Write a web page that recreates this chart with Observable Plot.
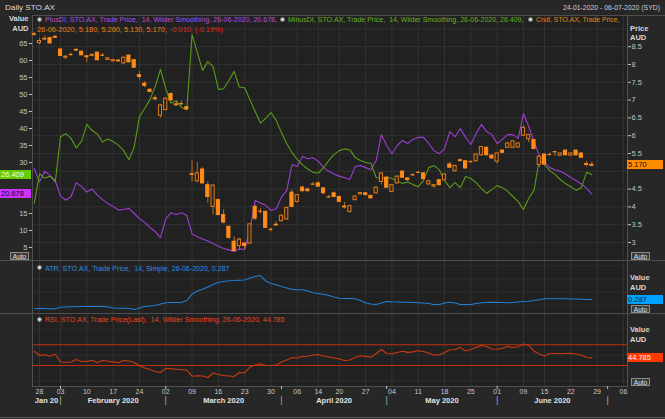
<!DOCTYPE html>
<html><head><meta charset="utf-8">
<script src="https://cdn.jsdelivr.net/npm/d3@7"></script>
<script src="https://cdn.jsdelivr.net/npm/@observablehq/plot@0.6"></script>
<style>
html,body{margin:0;padding:0;background:#272727;}
#chart{position:relative;width:665px;height:419px;background:#272727;overflow:hidden;font-family:"Liberation Sans",Arial,sans-serif;}
.t{position:absolute;white-space:pre;line-height:1;transform-origin:0 50%;}
.tag{position:absolute;height:9px;line-height:9px;font-size:7.5px;padding-left:1px;box-sizing:border-box;white-space:pre;}
.auto{position:absolute;width:19px;height:8px;border:1px solid #8c8c8c;background:#3a3a3a;color:#e2e2e2;font-size:6.5px;line-height:8px;text-align:center;box-sizing:border-box;}
.ico{position:absolute;width:5px;height:5px;border-radius:50%;background:#d6d6d6;border:1px solid #7a7a7a;box-sizing:border-box;}
.hl{position:absolute;height:1px;background:#4e4e4e;}
</style></head>
<body><div id="chart"></div>
<script>
// ---------- data ----------
const ticker = "STO.AX";
const startDate = "2020-01-24", endDate = "2020-07-06";
const holidays = ["2020-01-27","2020-04-10","2020-04-13","2020-06-08"];
const open = [8.84,8.60,8.71,8.74,8.78, 8.42,8.19,8.28,8.41,8.36, 8.23,8.24,8.33,8.26,8.13, 8.09,8.11,8.03,8.25,8.12,
  7.70,7.46,7.29,7.05,6.56, 6.72,7.17,6.88,6.90,6.80, 4.91,4.72,5.05,4.61,4.00, 4.19,3.77,3.44,3.02,2.90,
  2.97,2.97,4.00,3.88,3.86, 3.37,3.50,3.60,3.65,4.40, 4.14,4.54,4.49,4.64,4.66, 4.52,4.28,4.38,4.28,4.01,
  3.86,4.19,4.35,4.38,4.31, 4.38,4.70,4.82,4.42,4.66, 4.99,4.80,4.90,4.97,4.94, 4.63,4.57,4.75,4.75,5.19,
  5.00,5.31,5.28,5.27,5.28, 5.45,5.66,5.44,5.27,5.58, 5.66,5.66,5.67,6.00,5.90, 5.88,5.18,5.47,5.47,5.55,
  5.44,5.58,5.44,5.58,5.50, 5.20,5.18];
const high = [8.90,8.72,8.80,8.76,8.80, 8.44,8.25,8.32,8.45,8.38, 8.24,8.30,8.36,8.31,8.19, 8.14,8.13,8.21,8.27,8.14,
  7.80,7.52,7.32,7.12,6.88, 7.06,7.20,6.95,6.97,6.82, 5.30,5.25,5.10,4.70,4.62, 4.22,3.92,3.46,3.16,3.12,
  3.00,3.52,4.05,3.95,3.88, 3.40,3.58,3.78,3.99,4.47, 4.35,4.58,4.52,4.68,4.70, 4.54,4.32,4.42,4.30,4.12,
  4.04,4.30,4.41,4.40,4.33, 4.56,4.96,4.84,4.63,4.87, 5.01,4.82,4.93,5.00,4.96, 4.75,4.63,4.77,4.93,5.25,
  5.17,5.35,5.30,5.30,5.49, 5.70,5.68,5.46,5.52,5.61, 5.80,5.86,5.80,6.28,6.04, 5.90,5.43,5.49,5.52,5.56,
  5.52,5.60,5.52,5.60,5.52, 5.28,5.26];
const low = [8.80,8.55,8.68,8.58,8.74, 8.22,8.14,8.24,8.37,8.24, 8.05,8.22,8.10,8.22,8.11, 8.07,8.06,8.01,8.05,7.90,
  7.56,7.35,7.20,6.98,6.50, 6.70,6.97,6.82,6.84,6.72, 4.70,4.68,4.64,4.10,3.77, 3.75,3.52,3.10,2.74,2.78,
  2.80,2.95,3.62,3.80,3.40, 3.30,3.45,3.58,3.62,3.98, 4.10,4.42,4.42,4.60,4.55, 4.36,4.24,4.26,4.12,3.94,
  3.82,4.17,4.33,4.32,4.22, 4.36,4.62,4.52,4.40,4.64, 4.80,4.73,4.86,4.94,4.76, 4.60,4.53,4.59,4.73,5.08,
  4.98,5.28,5.06,5.24,5.26, 5.42,5.43,5.34,5.20,5.50, 5.64,5.64,5.65,5.98,5.80, 5.60,5.10,5.17,5.44,5.42,
  5.42,5.43,5.42,5.43,5.36, 5.12,5.13];
const close = [8.85,8.66,8.72,8.59,8.75, 8.24,8.22,8.28,8.39,8.26, 8.22,8.27,8.12,8.26,8.17, 8.12,8.09,8.19,8.06,7.91,
  7.65,7.40,7.23,7.04,6.85, 7.04,6.99,6.87,6.90,6.74, 4.92,4.94,4.66,4.28,4.60, 3.77,3.56,3.13,2.76,3.08,
  2.90,3.51,3.67,3.88,3.41, 3.37,3.48,3.75,3.97,4.00, 4.33,4.44,4.44,4.64,4.57, 4.38,4.28,4.28,4.14,4.00,
  4.02,4.29,4.39,4.33,4.24, 4.54,4.94,4.54,4.61,4.85, 4.82,4.75,4.90,4.97,4.78, 4.72,4.61,4.61,4.91,5.10,
  5.15,5.30,5.08,5.27,5.47, 5.68,5.45,5.36,5.50,5.52, 5.78,5.84,5.78,6.22,6.02, 5.63,5.41,5.19,5.47,5.55,
  5.50,5.45,5.50,5.45,5.38, 5.18,5.17];
const plusDI = [28.2,24.3,27.4,26.2,24.7, 20.1,18.9,20.0,24.1,22.9, 21.3,22.2,20.4,19.1,17.9, 17.1,16.0,16.2,16.5,15.0,
  13.5,12.4,10.9,9.7,7.9, 13.4,15.2,14.7,15.2,14.4, 9.0,8.2,7.5,6.9,6.2, 5.4,4.7,4.3,3.8,4.6,
  4.4,10.0,18.8,18.1,17.4, 15.9,16.4,19.8,21.8,29.4, 28.8,31.8,31.1,31.4,30.4, 28.5,27.4,26.6,26.0,25.5,
  25.0,28.8,29.1,28.5,27.9, 30.6,38.2,35.0,32.6,35.0, 36.5,35.6,36.8,37.4,37.4, 35.6,33.5,32.6,34.1,39.1,
  37.6,40.0,37.4,35.3,38.5, 41.2,39.1,38.2,35.6,36.8, 38.2,38.2,37.1,44.4,40.6, 36.2,32.1,30.3,28.5,27.9,
  27.4,26.6,25.6,24.7,23.7, 22.4,20.678];
const minusDI = [18.0,26.7,25.4,26.0,24.3, 37.6,38.5,37.1,34.3,36.3, 41.2,39.4,38.4,36.0,36.9, 36.2,35.1,33.5,30.8,34.5,
  43.5,45.9,48.5,52.4,57.4, 51.8,47.4,48.2,46.2,45.5, 67.6,62.4,57.1,59.7,58.2, 51.5,51.7,54.1,56.8,52.2,
  52.0,48.5,45.0,41.6,43.0, 44.7,42.4,38.8,35.6,32.9, 30.9,29.3,28.1,27.1,26.9, 28.5,30.6,32.4,33.5,34.0,
  33.7,31.5,30.6,30.0,29.8, 25.6,25.3,25.7,25.3,24.6, 23.8,24.3,23.5,22.9,24.7, 28.5,29.1,27.9,24.7,22.6,
  24.1,22.6,25.9,25.3,24.1, 22.4,20.9,22.1,23.2,22.6, 21.5,20.0,18.5,16.2,19.4, 21.8,30.6,29.4,27.6,26.5,
  25.0,23.8,22.9,21.8,22.6, 27.1,26.409];
const atr = [0.147,0.153,0.150,0.147,0.145, 0.170,0.173,0.176,0.177,0.180, 0.180,0.180,0.180,0.180,0.173, 0.158,0.155,0.155,0.150,0.135,
  0.158,0.180,0.188,0.196,0.218, 0.237,0.241,0.241,0.241,0.272, 0.370,0.416,0.444,0.477,0.514, 0.549,0.561,0.573,0.576,0.581,
  0.585,0.614,0.637,0.652,0.569, 0.530,0.511,0.485,0.462,0.442, 0.436,0.435,0.416,0.389,0.378, 0.368,0.348,0.325,0.307,0.302,
  0.302,0.298,0.272,0.234,0.218, 0.211,0.234,0.257,0.252,0.249, 0.246,0.246,0.241,0.237,0.234, 0.226,0.211,0.211,0.234,0.246,
  0.234,0.211,0.211,0.211,0.226, 0.237,0.241,0.244,0.246,0.241, 0.237,0.241,0.249,0.257,0.261, 0.272,0.284,0.298,0.298,0.298,
  0.298,0.298,0.295,0.295,0.292, 0.287,0.287];
const rsi = [57.6,49.3,50.7,48.0,51.8, 36.8,36.4,36.8,41.6,37.7, 37.7,40.2,35.2,39.7,38.3, 37.1,35.2,39.7,38.7,35.8,
  29.4,25.2,22.3,18.4,16.5, 24.6,23.6,22.7,21.9,21.3, 9.4,10.3,9.7,6.8,15.5, 12.6,10.7,9.7,8.8,16.5,
  15.9,27.1,31.0,33.3,30.0, 30.0,31.0,36.8,40.6,45.4, 44.5,47.4,48.0,50.3,51.2, 48.3,46.4,44.5,42.5,39.7,
  40.6,45.4,48.7,47.7,45.8, 53.2,60.9,53.2,52.6,55.1, 57.6,55.4,56.4,58.5,57.0, 54.1,50.3,50.3,55.1,60.3,
  60.9,65.1,58.0,60.9,64.7, 68.6,66.7,61.9,61.5,63.4, 66.7,64.7,66.1,71.5,69.0, 58.0,52.2,48.3,53.2,53.2,
  52.6,53.2,53.7,52.2,50.3, 45.4,44.785];
const rsiLevels = [70, 30];
const diTicks = [5,10,15,20,25,30,35,40,45,50,55,60,65];
const priceTicks = [3,3.5,4,4.5,5,5.5,6,6.5,7,7.5,8,8.5];
const priceGrid = [3,3.5,4,4.5,5,5.5,6,6.5,7,7.5,8,8.5,9];
const atrGrid = [0.2,0.4,0.6,0.8];
const rsiGrid = [0,50,100];
const monthLabels = ["Jan 20","February 2020","March 2020","April 2020","May 2020","June 2020"];

// ---------- derived ----------
const days = [];
for (let d = new Date(startDate+"T00:00:00Z"); d <= new Date(endDate+"T00:00:00Z"); d = new Date(d.getTime()+864e5)) {
  const s = d.toISOString().slice(0,10), wd = d.getUTCDay();
  if (wd === 0 || wd === 6 || holidays.includes(s)) continue;
  days.push(s);
}
const fmtDate = s => s.slice(8,10)+"-"+s.slice(5,7)+"-"+s.slice(0,4);
const idx = d3.range(days.length);
const wk = s => d3.utcMonday.floor(new Date(s+"T00:00:00Z")).getTime();
const weekIdx = idx.filter(i => i>0 && wk(days[i]) !== wk(days[i-1]));
const weekTicks = weekIdx.map(i => ({i, label: days[i].slice(8,10)}));
const monthStartIdx = idx.filter(i => i>0 && days[i].slice(5,7) !== days[i-1].slice(5,7));
const xDom = [-0.331, 112.78];
const bounds = [xDom[0], ...monthStartIdx];
const monthMarks = monthLabels.map((label,k) => ({label, c:(bounds[k]+bounds[k+1])/2}));
const candles = open.map((o,i) => ({i, o, h:high[i], l:low[i], c:close[i]}));
const last = days.indexOf("2020-06-26");

// ---------- scales (tick labels hidden under the value tags, as in the reference) ----------
const priceDom = [2.494, 9.376], diDom = [1.18, 73.24], atrDom = [0.074, 0.881], rsiDom = [-10.5, 130.4];
const diS = Plot.scale({y:{domain:diDom, range:[245,0]}});
const prS = Plot.scale({y:{domain:priceDom, range:[245,0]}});
const free = (s, tags) => t => tags.every(v => Math.abs(s.apply(t)-s.apply(v)) > 8);
const diTicksShown = diTicks.filter(free(diS, [plusDI[last], minusDI[last]]));
const priceTicksShown = priceTicks.filter(free(prS, [close[last]]));

// ---------- plots ----------
const chart = document.getElementById("chart");
const FONT = "'Liberation Sans', Arial, sans-serif";
const st = {background:"transparent", fontFamily:FONT, fontSize:"7.5px", color:"#c2c2c2"};
const base = {width:665, marginLeft:32, marginRight:38, color:{type:"identity"}};
const xNo = {domain:xDom, axis:null};

const pA = Plot.plot({...base, x:xNo, height:245, marginTop:0, marginBottom:0, y:{domain:priceDom, axis:null}, style:st,
  marks:[Plot.frame({fill:"#212121"}), Plot.ruleY(priceGrid,{stroke:"#323232"}), Plot.ruleX(weekIdx,{stroke:"#323232"}), Plot.frame({stroke:"#505050"})]});
const pB = Plot.plot({...base, x:xNo, height:245, marginTop:0, marginBottom:0, y:{domain:diDom}, style:st,
  marks:[
    Plot.axisY({anchor:"left", ticks:diTicksShown, tickSize:3, tickPadding:2, tickFormat:d=>String(d), label:null, fontSize:7.5}),
    Plot.lineY(plusDI,{stroke:"#9b3fd2", strokeWidth:1.1}),
    Plot.lineY(minusDI,{stroke:"#5a9c18", strokeWidth:1.1})]});
const pC = Plot.plot({...base, x:xNo, height:245, marginTop:0, marginBottom:0, y:{domain:priceDom}, style:st,
  marks:[
    Plot.axisY({anchor:"right", ticks:priceTicksShown, tickSize:3, tickPadding:1, tickFormat:d=>String(d), label:null, fontSize:7.5}),
    Plot.ruleX(candles,{x:"i", y1:"l", y2:"h", stroke:"#c46c1a"}),
    Plot.rect(candles,{x1:d=>d.i-0.3, x2:d=>d.i+0.3, y1:"o", y2:"c",
      fill:d=>d.c>d.o?"#2a2119":"#ff8c1a", stroke:d=>d.c>d.o?"#e07c18":"#ff8c1a", strokeWidth:1}),
    Plot.ruleY(candles.filter(d=>Math.abs(d.c-d.o)<0.015),{y:"c", x1:d=>d.i-0.36, x2:d=>d.i+0.36, stroke:"#ff8c1a", strokeWidth:1.2})]});
const pD = Plot.plot({...base, x:xNo, height:53, marginTop:0, marginBottom:0, y:{domain:atrDom, axis:null}, style:st,
  marks:[Plot.frame({fill:"#212121"}), Plot.ruleY(atrGrid,{stroke:"#2e2e2e"}), Plot.ruleX(weekIdx,{stroke:"#323232"}),
    Plot.lineY(atr,{stroke:"#1f80d6", strokeWidth:1.1}), Plot.frame({stroke:"#505050"})]});
const pE = Plot.plot({...base, x:{domain:xDom}, height:106, marginTop:0, marginBottom:33, y:{domain:rsiDom, axis:null}, style:st,
  marks:[Plot.frame({fill:"#212121"}), Plot.ruleY(rsiGrid,{stroke:"#2e2e2e"}), Plot.ruleX(weekIdx,{stroke:"#323232"}),
    Plot.ruleY(rsiLevels,{stroke:"#c2300e", strokeWidth:1.1}),
    Plot.lineY(rsi,{stroke:"#cc3a10", strokeWidth:1.1}),
    Plot.frame({stroke:"#505050"}),
    Plot.axisX({ticks:monthStartIdx, tickSize:3, tickFormat:()=>"", label:null}),
    Plot.text(weekTicks,{x:"i", text:"label", frameAnchor:"bottom", dy:7.5, fontSize:7, fill:"#c8c8c8"}),
    Plot.text(monthMarks,{x:"c", text:"label", frameAnchor:"bottom", dy:16, fontSize:7.5, fontWeight:"bold", fill:"#e2e2e2"}),
    Plot.text(monthStartIdx,{x:d=>d, text:()=>"|", frameAnchor:"bottom", dy:16, fontSize:9, fill:"#aaaaaa"})]});

function place(svg, top){ svg.style.position="absolute"; svg.style.left="0px"; svg.style.top=top+"px"; chart.appendChild(svg); }
place(pA,15); place(pB,15); place(pC,15); place(pD,260); place(pE,313);

// ---------- overlays ----------
function line(x,y,w,c){ const e=document.createElement("div"); e.className="hl"; e.style.left=x+"px"; e.style.top=y+"px"; e.style.width=w+"px"; if(c) e.style.background=c; chart.appendChild(e); }
line(0,260,665); line(0,313,665); line(32,15,633); line(0,417,665,"#5a5a5a");
function txt(str,x,y,o={}){
  const e=document.createElement("div"); e.className="t"; e.textContent=str;
  const fs=o.size||7; e.style.fontSize=fs+"px"; e.style.color=o.color||"#cccccc";
  if(o.bold) e.style.fontWeight="bold";
  e.style.top=(y-fs*0.5)+"px"; e.style.left=x+"px"; chart.appendChild(e);
  const w=e.getBoundingClientRect().width;
  if(o.w && w>0) e.style.transform=`scaleX(${o.w/w})`;
  if(o.right) e.style.left=(x-(o.w||w))+"px";
  return e;
}
function ico(cx,cy){ const e=document.createElement("div"); e.className="ico"; e.style.left=(cx-2.5)+"px"; e.style.top=(cy-2.5)+"px"; chart.appendChild(e); }
function tag(str,x,y,w,bg,fg){ const e=document.createElement("div"); e.className="tag"; e.textContent=str; e.style.left=x+"px"; e.style.top=(y-4.5)+"px"; e.style.width=w+"px"; e.style.background=bg; e.style.color=fg; chart.appendChild(e); }
function auto(x,y){ const e=document.createElement("div"); e.className="auto"; e.textContent="Auto"; e.style.left=x+"px"; e.style.top=y+"px"; chart.appendChild(e); }

const dLast = fmtDate(days[last]);
txt("Daily "+ticker, 5, 7.5, {size:8, color:"#dcdcdc", w:50});
txt(fmtDate(days[0])+" - "+fmtDate(days[days.length-1])+" (SYD)", 563, 7.5, {size:7.5, color:"#cfcfcf", w:97});
txt("Value", 28.5, 18.5, {size:7.5, bold:true, color:"#d8d8d8", right:true});
txt("AUD", 28.5, 29, {size:7.5, bold:true, color:"#d8d8d8", right:true});
txt("Price", 630, 29, {size:7.5, bold:true, color:"#d8d8d8"});
txt("AUD", 630, 38, {size:7.5, bold:true, color:"#d8d8d8"});
txt("Value", 630, 277.5, {size:7.5, bold:true, color:"#d8d8d8"});
txt("AUD", 630, 287.5, {size:7.5, bold:true, color:"#d8d8d8"});
txt("Value", 630, 329.5, {size:7.5, bold:true, color:"#d8d8d8"});
txt("AUD", 630, 339.5, {size:7.5, bold:true, color:"#d8d8d8"});

ico(39.2,19.3); txt(`PlusDI, ${ticker}, Trade Price,  14, Wilder Smoothing, ${dLast}, ${plusDI[last].toFixed(3)},`, 45, 19.5, {color:"#b04ee6", w:232});
ico(282.5,19.3); txt(`MinusDI, ${ticker}, Trade Price,  14, Wilder Smoothing, ${dLast}, ${minusDI[last].toFixed(3)},`, 287.5, 19.5, {color:"#68b41c", w:235.5});
ico(530,19.3); txt(`Cndl, ${ticker}, Trade Price,`, 535.5, 19.5, {color:"#e8830f", w:83.5});
const chg = close[last]-close[last-1];
txt(`${dLast}, ${open[last].toFixed(3)}, ${high[last].toFixed(3)}, ${low[last].toFixed(3)}, ${close[last].toFixed(3)},`, 37, 29.5, {color:"#e8830f", w:130});
txt(`${chg.toFixed(3)}, (${(chg/close[last-1]*100).toFixed(2)}%)`, 170, 29.5, {color:"#e42a1c", w:53});
ico(39,267.5); txt(`ATR, ${ticker}, Trade Price,  14, Simple, ${dLast}, ${atr[last].toFixed(3)}`, 44.5, 268, {color:"#2d8fe2", w:184.5});
ico(39,319); txt(`RSI, ${ticker}, Trade Price(Last),  14, Wilder Smoothing, ${dLast}, ${rsi[last].toFixed(3)}`, 44.5, 319.5, {color:"#e5481c", w:239.5});

tag(minusDI[last].toFixed(3), 0, 15+pB.scale("y").apply(minusDI[last]), 31, "#66cc00", "#f4fff0");
tag(plusDI[last].toFixed(3), 0, 15+pB.scale("y").apply(plusDI[last]), 31, "#cc33ff", "#1a001f");
tag(close[last].toFixed(3), 627, 15+pC.scale("y").apply(close[last]), 36, "#ff8c00", "#1a0d00");
tag(atr[last].toFixed(3), 627, 260+pD.scale("y").apply(atr[last]), 36, "#00a2ff", "#001a33");
tag(rsi[last].toFixed(3), 627, 313+pE.scale("y").apply(rsi[last]), 36, "#ff3a00", "#fff0e8");

auto(10,252); auto(631,252); auto(631,305); auto(631,378);
</script></body></html>
